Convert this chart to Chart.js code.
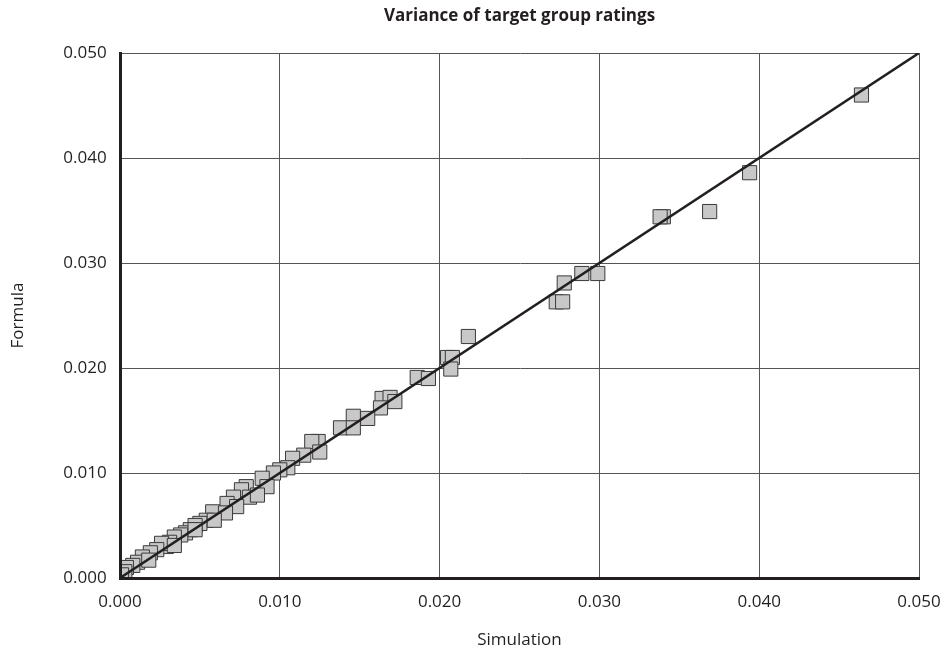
<!DOCTYPE html>
<html>
<head>
<meta charset="utf-8">
<script src="https://cdn.jsdelivr.net/npm/chart.js@4"></script>
<style>
  html, body { margin: 0; padding: 0; background: #fff; }
  #wrap { width: 947px; height: 656px; }
</style>
</head>
<body>
<div id="wrap"><canvas id="chart"></canvas></div>
<script>
// simulated vs formula variance
const simX = [
  0.0464, 0.0394, 0.0369, 0.0340, 0.0338, 0.0299, 0.0289, 0.0278, 0.0273, 0.0277,
  0.0218, 0.0205, 0.0208, 0.0207, 0.0186, 0.0193, 0.0164, 0.0169, 0.0172, 0.0163,
  0.0146, 0.0138, 0.0155, 0.0146, 0.0124, 0.0120, 0.0125, 0.0115, 0.0108, 0.0105,
  0.0100, 0.0096, 0.0089, 0.0092, 0.0079, 0.0076, 0.0081, 0.0071, 0.0067, 0.0073,
  0.0058, 0.0066, 0.0054, 0.0050, 0.0047, 0.0044, 0.0041, 0.0038, 0.0034, 0.0031,
  0.0029, 0.0026, 0.0023, 0.0019, 0.0014, 0.0011, 0.0008, 0.0004, 0.0003, 0.0001,
  0.0047, 0.0034, 0.0059, 0.0086, 0.0018
];
const simY = [
  0.0460, 0.0386, 0.0349, 0.0344, 0.0344, 0.0290, 0.0290, 0.0281, 0.0263, 0.0263,
  0.0230, 0.0210, 0.0210, 0.0199, 0.0191, 0.0190, 0.0171, 0.0172, 0.0168, 0.0162,
  0.0154, 0.0143, 0.0152, 0.0143, 0.0130, 0.0130, 0.0120, 0.0117, 0.0114, 0.0105,
  0.0103, 0.0100, 0.0095, 0.0087, 0.0087, 0.0084, 0.0077, 0.0077, 0.0071, 0.0068,
  0.0063, 0.0062, 0.0055, 0.0052, 0.0050, 0.0046, 0.0043, 0.0041, 0.0039, 0.0034,
  0.0030, 0.0033, 0.0027, 0.0024, 0.0020, 0.0015, 0.0012, 0.0010, 0.0006, 0.0003,
  0.0046, 0.0031, 0.0055, 0.0079, 0.0017
];
// y = x reference line
const lineX = [0, 0.05];
const lineY = [0, 0.05];

const tickFont = { family: "'Open Sans', sans-serif", size: 17 };
const ink = "#231f20";

const points = simX.map((x, i) => ({ x: x, y: simY[i] }));
const diag = lineX.map((x, i) => ({ x: x, y: lineY[i] }));

new Chart(document.getElementById("chart"), {
  type: "scatter",
  data: {
    datasets: [
      {
        type: "line",
        data: diag,
        borderColor: ink,
        borderWidth: 2.5,
        pointRadius: 0,
        fill: false,
        order: 0,
      },
      {
        data: points,
        pointStyle: "rect",
        pointRadius: 10,
        backgroundColor: "#c8c8c8",
        borderColor: "#3a3a3a",
        borderWidth: 1,
        clip: 0,
        order: 1,
      },
    ],
  },
  options: {
    responsive: true,
    maintainAspectRatio: false,
    animation: false,
    devicePixelRatio: 1,
    layout: { padding: { left: 0, right: 28, top: 0, bottom: 0 } },
    plugins: {
      legend: { display: false },
      tooltip: { enabled: false },
      title: {
        display: true,
        fullSize: false,
        text: "Variance of target group ratings",
        color: ink,
        font: { family: "'Open Sans', sans-serif", size: 17, weight: "bold" },
        padding: { top: 5.8, bottom: 26.8 },
      },
    },
    scales: {
      x: {
        type: "linear",
        min: 0,
        max: 0.05,
        afterFit: (s) => {
          s.height = 78;
          s.paddingLeft = 0;
          s.paddingRight = 0;
        },
        ticks: {
          stepSize: 0.01,
          padding: 13.5,
          color: ink,
          font: tickFont,
          maxRotation: 0,
          callback: (v) => v.toFixed(3),
        },
        grid: { color: "#555", lineWidth: 1, drawTicks: false },
        border: { color: ink, width: 3, z: 1 },
        title: {
          display: true,
          text: "Simulation",
          color: ink,
          font: tickFont,
          padding: { top: 0, bottom: 5.8 },
        },
      },
      y: {
        type: "linear",
        min: 0,
        max: 0.05,
        afterFit: (s) => { s.width = 120; },
        ticks: {
          stepSize: 0.01,
          padding: 13.3,
          color: ink,
          font: tickFont,
          callback: (v) => v.toFixed(3),
        },
        grid: { color: "#555", lineWidth: 1, drawTicks: false },
        border: { color: ink, width: 3, z: 1 },
        title: {
          display: true,
          text: "Formula",
          color: ink,
          font: tickFont,
          padding: { top: 7.8, bottom: 0 },
        },
      },
    },
  },
});
</script>
</body>
</html>
